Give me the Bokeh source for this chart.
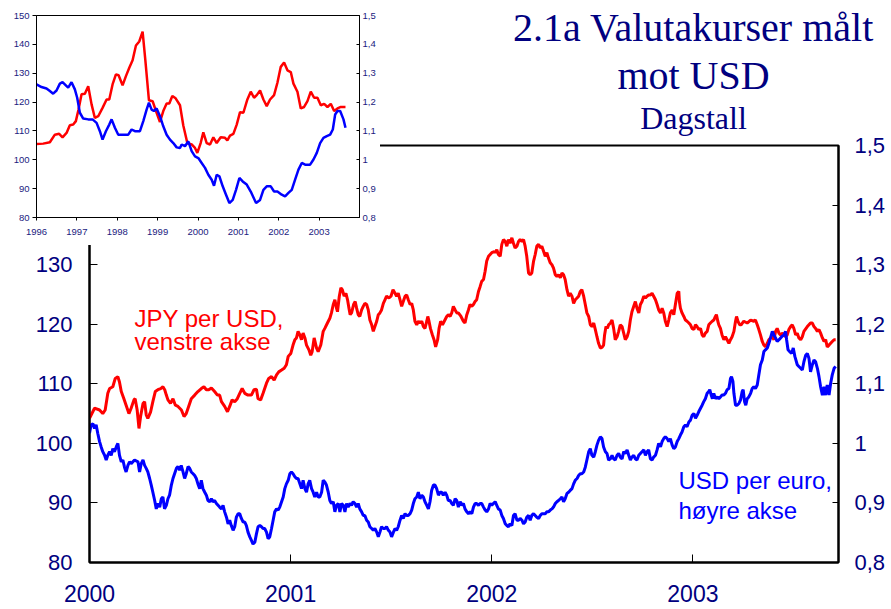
from bokeh.plotting import figure
from bokeh.models import (LinearAxis, Range1d, FixedTicker, Label, GridBox,
                          CustomJSTickFormatter)
from bokeh.embed import file_html
from bokeh.resources import INLINE

# ---------------- data: main chart (daily) ----------------
jpy_t = [
 2000.000, 2000.025, 2000.050, 2000.066, 2000.078, 2000.091, 2000.100, 2000.116, 2000.128, 2000.141,
 2000.149, 2000.158, 2000.171, 2000.182, 2000.196, 2000.207, 2000.221, 2000.227, 2000.237, 2000.246,
 2000.254, 2000.266, 2000.274, 2000.282, 2000.290, 2000.304, 2000.315, 2000.327, 2000.340, 2000.354,
 2000.365, 2000.374, 2000.382, 2000.390, 2000.403, 2000.415, 2000.427, 2000.440, 2000.457, 2000.470,
 2000.481, 2000.493, 2000.506, 2000.523, 2000.539, 2000.556, 2000.569, 2000.581, 2000.593, 2000.606,
 2000.622, 2000.636, 2000.647, 2000.656, 2000.672, 2000.686, 2000.697, 2000.709, 2000.722, 2000.735,
 2000.747, 2000.759, 2000.772, 2000.788, 2000.805, 2000.818, 2000.830, 2000.838, 2000.851, 2000.863,
 2000.880, 2000.891, 2000.905, 2000.918, 2000.930, 2000.941, 2000.955, 2000.968, 2000.979, 2000.988,
 2001.001, 2001.012, 2001.021,
 2001.029, 2001.037, 2001.046, 2001.054, 2001.062, 2001.071, 2001.079, 2001.091, 2001.100, 2001.107,
 2001.117, 2001.129, 2001.137, 2001.150, 2001.162, 2001.170, 2001.183, 2001.195, 2001.203, 2001.212,
 2001.220, 2001.228, 2001.233, 2001.242, 2001.250, 2001.257, 2001.266, 2001.275, 2001.283, 2001.290,
 2001.296, 2001.303, 2001.313, 2001.321, 2001.328, 2001.336, 2001.344, 2001.353, 2001.361, 2001.369,
 2001.378, 2001.386, 2001.394, 2001.403, 2001.411, 2001.419, 2001.428, 2001.436, 2001.444, 2001.452,
 2001.461, 2001.469, 2001.477, 2001.489, 2001.499, 2001.509, 2001.519, 2001.527, 2001.535, 2001.544,
 2001.552, 2001.560, 2001.569, 2001.577, 2001.585, 2001.594, 2001.602, 2001.610, 2001.618, 2001.627,
 2001.635, 2001.643, 2001.652, 2001.660, 2001.668, 2001.677, 2001.682, 2001.688, 2001.695, 2001.705,
 2001.713, 2001.721, 2001.731, 2001.738, 2001.746, 2001.755, 2001.764, 2001.776, 2001.784, 2001.793,
 2001.801, 2001.809, 2001.818, 2001.826, 2001.834, 2001.847, 2001.859, 2001.867, 2001.876, 2001.884,
 2001.892, 2001.901, 2001.909, 2001.917, 2001.925, 2001.934, 2001.942, 2001.950, 2001.959, 2001.967,
 2001.975, 2001.984, 2001.992, 2002.000, 2002.013,
 2002.017, 2002.025, 2002.033, 2002.042, 2002.050, 2002.058, 2002.067, 2002.075, 2002.083, 2002.091,
 2002.100, 2002.108, 2002.116, 2002.125, 2002.133, 2002.141, 2002.150, 2002.158, 2002.166, 2002.174,
 2002.183, 2002.191, 2002.199, 2002.208, 2002.216, 2002.224, 2002.233, 2002.241, 2002.249, 2002.258,
 2002.266, 2002.274, 2002.282, 2002.291, 2002.299, 2002.307, 2002.316, 2002.324, 2002.332, 2002.341,
 2002.349, 2002.357, 2002.365, 2002.374, 2002.382, 2002.390, 2002.399, 2002.407, 2002.415, 2002.424,
 2002.432, 2002.440, 2002.448, 2002.457, 2002.465, 2002.473, 2002.482, 2002.490, 2002.498, 2002.507,
 2002.515, 2002.523, 2002.531, 2002.540, 2002.548, 2002.556, 2002.561, 2002.568, 2002.575, 2002.581,
 2002.590, 2002.598, 2002.606, 2002.614, 2002.623, 2002.631, 2002.639, 2002.648, 2002.656, 2002.664,
 2002.673, 2002.681, 2002.689, 2002.697, 2002.706, 2002.714, 2002.722, 2002.731, 2002.739, 2002.747,
 2002.756, 2002.764, 2002.772, 2002.780, 2002.789, 2002.797, 2002.805, 2002.814, 2002.822, 2002.830,
 2002.839, 2002.847, 2002.855, 2002.863, 2002.872, 2002.880, 2002.888, 2002.897, 2002.905, 2002.913,
 2002.922, 2002.930, 2002.933, 2002.938, 2002.946, 2002.955, 2002.963, 2002.971, 2002.980, 2002.988,
 2002.996, 2003.005, 2003.013,
 2003.021, 2003.029, 2003.038, 2003.046, 2003.054, 2003.062, 2003.071, 2003.079, 2003.087, 2003.096,
 2003.104, 2003.112, 2003.117, 2003.124, 2003.129, 2003.137, 2003.145, 2003.154, 2003.162, 2003.170,
 2003.179, 2003.187, 2003.195, 2003.204, 2003.212, 2003.217, 2003.224, 2003.233, 2003.240, 2003.253,
 2003.270, 2003.287, 2003.303, 2003.311, 2003.320, 2003.328, 2003.336, 2003.345, 2003.353, 2003.361,
 2003.370, 2003.378, 2003.386, 2003.395, 2003.403, 2003.411, 2003.419, 2003.428, 2003.436, 2003.444,
 2003.453, 2003.461, 2003.469, 2003.477, 2003.486, 2003.494, 2003.502, 2003.511, 2003.519, 2003.527,
 2003.536, 2003.544, 2003.552, 2003.569, 2003.577, 2003.585, 2003.594, 2003.602, 2003.610, 2003.619,
 2003.627, 2003.635, 2003.644, 2003.652, 2003.660, 2003.668, 2003.677, 2003.685, 2003.693, 2003.702,
 2003.710]
jpy_v = [
 104.2, 105.9, 105.6, 105.0, 105.6, 108.4, 109.2, 109.5, 110.9, 111.2,
 110.3, 108.7, 107.5, 106.4, 105.0, 105.9, 107.3, 107.5, 105.6, 102.5,
 104.5, 106.7, 107.0, 104.8, 104.2, 105.3, 107.0, 108.7, 109.0, 109.2,
 109.5, 109.0, 108.1, 107.3, 106.7, 107.5, 106.4, 106.2, 105.6, 104.5,
 105.0, 106.2, 107.5, 108.1, 108.7, 109.2, 109.5, 109.0, 109.0, 109.3,
 108.7, 108.1, 108.1, 107.0, 106.2, 105.3, 106.2, 107.3, 107.0, 107.5,
 108.4, 109.2, 108.4, 108.1, 108.1, 109.0, 109.1, 107.5, 107.3, 108.4,
 110.1, 110.9, 111.2, 110.6, 111.5, 112.0, 112.3, 112.6, 113.2, 114.6,
 115.1, 116.5, 117.4,
 117.7, 118.8, 118.2, 117.4, 118.5, 117.7, 116.5, 115.7, 114.8, 115.4,
 117.7, 116.0, 115.4, 116.5, 118.8, 119.3, 120.2, 121.0, 121.9, 123.3,
 124.1, 122.7, 122.1, 124.7, 126.1, 125.8, 124.7, 125.2, 124.1, 122.7,
 121.6, 121.9, 123.3, 123.8, 122.7, 121.6, 121.3, 122.4, 123.0, 123.5,
 123.3, 122.4, 120.7, 119.9, 118.8, 119.6, 120.5, 121.6, 121.9, 122.4,
 123.5, 124.1, 124.7, 124.4, 124.7, 125.8, 125.2, 124.7, 125.2, 124.1,
 123.0, 123.8, 124.7, 124.9, 124.1, 123.3, 123.5, 122.4, 120.5, 119.9,
 120.5, 120.2, 120.5, 119.6, 119.3, 120.5, 121.3, 120.5, 119.3, 118.2,
 117.4, 116.2, 117.4, 119.3, 120.5, 119.9, 120.5, 121.3, 121.6, 121.3,
 121.9, 123.0, 122.4, 121.9, 121.9, 121.3, 120.5, 120.2, 121.6, 122.4,
 123.3, 123.0, 123.3, 123.8, 124.1, 125.5, 126.3, 127.2, 127.5, 128.9,
 130.6, 131.4, 131.7, 132.0, 132.2,
 132.0, 132.5, 131.7, 131.4, 133.4, 134.2, 133.9, 133.1, 134.2, 133.6,
 134.5, 133.6, 132.8, 133.1, 133.9, 134.2, 133.9, 134.2, 133.1, 131.4,
 128.6, 128.3, 128.6, 130.6, 131.7, 133.1, 133.4, 132.8, 133.1, 132.2,
 131.4, 132.0, 131.1, 130.3, 130.0, 129.4, 128.3, 128.0, 128.3, 127.8,
 128.6, 128.3, 127.5, 125.8, 124.7, 125.2, 124.7, 123.5, 124.1, 124.4,
 124.7, 125.5, 125.8, 124.7, 123.3, 121.9, 121.3, 119.9, 119.6, 120.2,
 119.1, 117.9, 116.8, 116.0, 116.1, 116.5, 118.2, 119.6, 119.3, 119.9,
 120.2, 120.7, 119.3, 117.4, 117.9, 118.8, 119.9, 119.6, 118.5, 117.4,
 117.9, 118.8, 120.7, 122.1, 123.0, 123.8, 122.7, 121.9, 123.3, 123.8,
 124.7, 124.4, 124.7, 124.9, 124.9, 125.2, 124.7, 124.1, 123.3, 122.4,
 121.9, 122.7, 121.9, 120.5, 119.6, 120.7, 121.9, 122.4, 121.6, 123.3,
 125.2, 125.5, 123.8, 122.7, 121.9, 121.3, 120.7, 120.5, 120.2, 119.9,
 119.3, 119.1, 119.9,
 119.6, 119.1, 119.3, 118.2, 117.9, 118.5, 118.8, 119.9, 120.2, 120.5,
 120.7, 121.3, 121.6, 120.5, 119.9, 119.3, 118.2, 117.4, 117.9, 117.4,
 116.8, 117.4, 117.9, 118.8, 120.5, 121.3, 120.5, 119.9, 119.9, 120.5,
 120.2, 120.7, 120.5, 120.7, 119.9, 119.1, 118.2, 117.1, 116.5, 116.2,
 116.8, 117.4, 117.7, 117.9, 117.4, 118.8, 119.3, 118.5, 118.2, 118.5,
 118.2, 117.9, 118.2, 119.1, 119.6, 119.9, 119.3, 118.2, 118.5, 117.7,
 117.4, 117.9, 118.8, 119.6, 119.9, 120.2, 120.2, 119.6, 119.3, 118.8,
 119.1, 118.5, 117.7, 117.1, 117.4, 116.2, 116.5, 116.8, 117.1, 117.4,
 117.4]

eur_t = [
 2000.000, 2000.008, 2000.017, 2000.025, 2000.033, 2000.041, 2000.050, 2000.058, 2000.066, 2000.075,
 2000.083, 2000.091, 2000.100, 2000.108, 2000.116, 2000.124, 2000.133, 2000.141, 2000.149, 2000.158,
 2000.166, 2000.174, 2000.182, 2000.191, 2000.199, 2000.207, 2000.224, 2000.241, 2000.249, 2000.257,
 2000.266, 2000.274, 2000.282, 2000.290, 2000.299, 2000.307, 2000.315, 2000.324, 2000.332, 2000.340,
 2000.349, 2000.357, 2000.365, 2000.373, 2000.382, 2000.390, 2000.398, 2000.407, 2000.415, 2000.423,
 2000.432, 2000.440, 2000.448, 2000.456, 2000.465, 2000.473, 2000.481, 2000.490, 2000.498, 2000.506,
 2000.515, 2000.523, 2000.531, 2000.539, 2000.548, 2000.556, 2000.564, 2000.573, 2000.581, 2000.589,
 2000.598, 2000.606, 2000.614, 2000.622, 2000.631, 2000.639, 2000.647, 2000.656, 2000.664, 2000.672,
 2000.681, 2000.689, 2000.697, 2000.705, 2000.714, 2000.722, 2000.730, 2000.739, 2000.747, 2000.755,
 2000.764, 2000.772, 2000.780, 2000.788, 2000.797, 2000.805, 2000.813, 2000.822, 2000.830, 2000.838,
 2000.847, 2000.855, 2000.863, 2000.871, 2000.880, 2000.888, 2000.896, 2000.905, 2000.913, 2000.921,
 2000.930, 2000.938, 2000.946, 2000.955, 2000.963, 2000.971, 2000.979, 2000.988, 2000.996, 2001.004,
 2001.012, 2001.021,
 2001.029, 2001.037, 2001.046, 2001.054, 2001.062, 2001.071, 2001.079, 2001.087, 2001.095, 2001.104,
 2001.112, 2001.120, 2001.129, 2001.137, 2001.145, 2001.154, 2001.162, 2001.170, 2001.178, 2001.187,
 2001.195, 2001.203, 2001.212, 2001.220, 2001.228, 2001.237, 2001.245, 2001.253, 2001.262, 2001.270,
 2001.278, 2001.286, 2001.295, 2001.303, 2001.311, 2001.320, 2001.328, 2001.336, 2001.344, 2001.353,
 2001.361, 2001.369, 2001.378, 2001.386, 2001.394, 2001.403, 2001.411, 2001.419, 2001.428, 2001.436,
 2001.444, 2001.452, 2001.461, 2001.469, 2001.477, 2001.486, 2001.494, 2001.502, 2001.511, 2001.519,
 2001.527, 2001.535, 2001.544, 2001.552, 2001.560, 2001.569, 2001.577, 2001.585, 2001.594, 2001.602,
 2001.610, 2001.618, 2001.627, 2001.635, 2001.643, 2001.652, 2001.660, 2001.668, 2001.677, 2001.685,
 2001.693, 2001.701, 2001.710, 2001.718, 2001.726, 2001.735, 2001.743, 2001.751, 2001.759, 2001.768,
 2001.776, 2001.784, 2001.793, 2001.801, 2001.809, 2001.818, 2001.826, 2001.834, 2001.843, 2001.851,
 2001.859, 2001.867, 2001.876, 2001.884, 2001.892, 2001.901, 2001.909, 2001.917, 2001.925, 2001.934,
 2001.942, 2001.950, 2001.959, 2001.967, 2001.975, 2001.984, 2001.992, 2002.000, 2002.008, 2002.017,
 2002.025, 2002.033, 2002.042, 2002.050, 2002.058, 2002.067, 2002.075, 2002.083, 2002.091, 2002.100,
 2002.108, 2002.116, 2002.125, 2002.133, 2002.141, 2002.150, 2002.158, 2002.166, 2002.174, 2002.183,
 2002.191, 2002.199, 2002.208, 2002.216, 2002.224, 2002.233, 2002.241, 2002.249, 2002.266, 2002.274,
 2002.282, 2002.291, 2002.299, 2002.307, 2002.316, 2002.324, 2002.332, 2002.341, 2002.349, 2002.357,
 2002.365, 2002.374, 2002.382, 2002.390, 2002.399, 2002.407, 2002.415, 2002.424, 2002.432, 2002.440,
 2002.448, 2002.457, 2002.465, 2002.473, 2002.482, 2002.490, 2002.498, 2002.507, 2002.515, 2002.523,
 2002.531, 2002.540, 2002.548, 2002.556, 2002.565, 2002.573, 2002.581, 2002.590, 2002.598, 2002.606,
 2002.614, 2002.623, 2002.631, 2002.639, 2002.648, 2002.656, 2002.664, 2002.673, 2002.681, 2002.689,
 2002.697, 2002.706, 2002.714, 2002.722, 2002.731, 2002.739, 2002.747, 2002.756, 2002.764, 2002.772,
 2002.780, 2002.789, 2002.797, 2002.805, 2002.814, 2002.822, 2002.830, 2002.839, 2002.847, 2002.855,
 2002.863, 2002.872, 2002.880, 2002.888, 2002.897, 2002.905, 2002.913, 2002.922, 2002.930, 2002.938,
 2002.946, 2002.955, 2002.963, 2002.971, 2002.980, 2002.988, 2002.996, 2003.005, 2003.013,
 2003.021, 2003.029, 2003.038, 2003.046, 2003.054, 2003.062, 2003.071, 2003.079, 2003.084, 2003.091,
 2003.097, 2003.104, 2003.112, 2003.121, 2003.129, 2003.137, 2003.145, 2003.154, 2003.162, 2003.170,
 2003.179, 2003.187, 2003.192, 2003.199, 2003.204, 2003.212, 2003.220, 2003.229, 2003.237, 2003.245,
 2003.250, 2003.257, 2003.263, 2003.270, 2003.278, 2003.287, 2003.295, 2003.303, 2003.311, 2003.320,
 2003.328, 2003.336, 2003.345, 2003.353, 2003.361, 2003.370, 2003.378, 2003.386, 2003.395, 2003.403,
 2003.411, 2003.419, 2003.428, 2003.436, 2003.444, 2003.453, 2003.461, 2003.466, 2003.473, 2003.481,
 2003.491, 2003.499, 2003.507, 2003.519, 2003.527, 2003.536, 2003.544, 2003.552, 2003.561, 2003.569,
 2003.577, 2003.585, 2003.594, 2003.602, 2003.610, 2003.619, 2003.627, 2003.635, 2003.644, 2003.652,
 2003.660, 2003.668, 2003.677, 2003.685, 2003.693, 2003.702, 2003.710]
eur_v = [
 1.017, 1.031, 1.033, 1.025, 1.031, 1.017, 1.003, 0.994, 0.986, 0.980,
 0.972, 0.980, 0.986, 0.980, 0.991, 0.986, 0.994, 1.000, 0.980, 0.969,
 0.972, 0.960, 0.952, 0.963, 0.969, 0.966, 0.972, 0.969, 0.952, 0.966,
 0.972, 0.963, 0.958, 0.952, 0.941, 0.930, 0.918, 0.904, 0.890, 0.899,
 0.893, 0.907, 0.910, 0.890, 0.896, 0.907, 0.913, 0.930, 0.941, 0.949,
 0.958, 0.961, 0.955, 0.963, 0.952, 0.941, 0.949, 0.961, 0.958, 0.952,
 0.949, 0.946, 0.941, 0.932, 0.924, 0.938, 0.924, 0.918, 0.913, 0.904,
 0.902, 0.907, 0.902, 0.904, 0.899, 0.896, 0.893, 0.890, 0.896, 0.885,
 0.876, 0.865, 0.871, 0.862, 0.854, 0.860, 0.876, 0.882, 0.882, 0.874,
 0.868, 0.868, 0.862, 0.851, 0.843, 0.837, 0.831, 0.834, 0.848, 0.860,
 0.862, 0.860, 0.857, 0.857, 0.851, 0.840, 0.843, 0.857, 0.871, 0.885,
 0.890, 0.888, 0.893, 0.902, 0.910, 0.924, 0.932, 0.938, 0.949, 0.952,
 0.949, 0.944,
 0.941, 0.941, 0.932, 0.924, 0.938, 0.924, 0.918, 0.932, 0.938, 0.924,
 0.918, 0.910, 0.918, 0.910, 0.910, 0.918, 0.938, 0.935, 0.930, 0.918,
 0.904, 0.899, 0.902, 0.885, 0.896, 0.899, 0.885, 0.899, 0.896, 0.885,
 0.899, 0.893, 0.899, 0.896, 0.902, 0.899, 0.893, 0.899, 0.890, 0.885,
 0.879, 0.879, 0.871, 0.868, 0.860, 0.857, 0.854, 0.857, 0.851, 0.843,
 0.851, 0.860, 0.857, 0.857, 0.860, 0.854, 0.851, 0.843, 0.851, 0.857,
 0.854, 0.860, 0.871, 0.879, 0.874, 0.882, 0.879, 0.879, 0.882, 0.888,
 0.899, 0.907, 0.910, 0.918, 0.907, 0.913, 0.910, 0.902, 0.896, 0.890,
 0.902, 0.921, 0.930, 0.930, 0.924, 0.913, 0.918, 0.918, 0.913, 0.918,
 0.913, 0.904, 0.904, 0.899, 0.896, 0.907, 0.904, 0.893, 0.902, 0.896,
 0.899, 0.890, 0.885, 0.882, 0.885, 0.882, 0.893, 0.899, 0.899, 0.896,
 0.899, 0.899, 0.893, 0.888, 0.885, 0.890, 0.899, 0.896, 0.899, 0.902,
 0.896, 0.890, 0.888, 0.879, 0.874, 0.865, 0.862, 0.860, 0.865, 0.862,
 0.879, 0.882, 0.871, 0.871, 0.874, 0.871, 0.865, 0.868, 0.876, 0.879,
 0.871, 0.879, 0.882, 0.879, 0.876, 0.874, 0.879, 0.882, 0.882, 0.885,
 0.885, 0.888, 0.890, 0.893, 0.899, 0.902, 0.904, 0.907, 0.910, 0.902,
 0.907, 0.916, 0.918, 0.921, 0.924, 0.932, 0.938, 0.941, 0.946, 0.949,
 0.949, 0.952, 0.960, 0.972, 0.986, 0.991, 0.980, 0.977, 0.986, 0.997,
 1.005, 1.011, 1.008, 0.994, 0.986, 0.983, 0.972, 0.974, 0.980, 0.974,
 0.972, 0.980, 0.983, 0.977, 0.974, 0.986, 0.983, 0.989, 0.980, 0.972,
 0.977, 0.980, 0.974, 0.972, 0.980, 0.983, 0.986, 0.989, 0.980, 0.986,
 0.989, 0.974, 0.972, 0.977, 0.980, 0.989, 1.000, 0.994, 1.003, 1.008,
 1.011, 1.008, 1.003, 1.008, 0.997, 0.991, 0.994, 1.003, 1.008, 1.014,
 1.019, 1.028, 1.031, 1.028, 1.036, 1.039, 1.047, 1.050, 1.042,
 1.047, 1.053, 1.059, 1.064, 1.070, 1.075, 1.084, 1.087, 1.090, 1.081,
 1.075, 1.084, 1.075, 1.078, 1.075, 1.078, 1.081, 1.081, 1.084, 1.090,
 1.092, 1.109, 1.112, 1.104, 1.084, 1.064, 1.064, 1.067, 1.073, 1.087,
 1.090, 1.070, 1.064, 1.075, 1.078, 1.084, 1.092, 1.095, 1.092, 1.098,
 1.115, 1.132, 1.140, 1.154, 1.157, 1.160, 1.168, 1.177, 1.188, 1.182,
 1.177, 1.171, 1.174, 1.177, 1.180, 1.182, 1.188, 1.174, 1.157, 1.154,
 1.151, 1.160, 1.146, 1.132, 1.129, 1.126, 1.123, 1.137, 1.148, 1.151,
 1.143, 1.120, 1.132, 1.140, 1.137, 1.126, 1.112, 1.095, 1.081, 1.095,
 1.081, 1.098, 1.081, 1.101, 1.115, 1.126, 1.129]

# ---------------- data: inset (monthly, 1996-2003) ----------------
jpy_m_t = [
 1996.000, 1996.165, 1996.331, 1996.455, 1996.562, 1996.645, 1996.744, 1996.826, 1996.909, 1996.975,
 1997.041, 1997.116, 1997.198, 1997.281, 1997.364, 1997.446, 1997.529, 1997.636, 1997.736, 1997.802,
 1997.884, 1997.967, 1998.033, 1998.132, 1998.215, 1998.298, 1998.380, 1998.463, 1998.545, 1998.628,
 1998.694, 1998.785, 1998.876, 1998.959, 1999.058, 1999.140, 1999.223, 1999.289, 1999.364, 1999.446,
 1999.554, 1999.636, 1999.736, 1999.843, 1999.926, 1999.983, 2000.066, 2000.132, 2000.215, 2000.298,
 2000.380, 2000.463, 2000.562, 2000.669, 2000.727, 2000.793, 2000.876, 2000.959, 2001.041, 2001.124,
 2001.223, 2001.306, 2001.388, 2001.455, 2001.537, 2001.620, 2001.702, 2001.785, 2001.884, 2001.967,
 2002.050, 2002.132, 2002.215, 2002.298, 2002.364, 2002.463, 2002.545, 2002.628, 2002.711, 2002.793,
 2002.876, 2002.959, 2003.041, 2003.124, 2003.207, 2003.289, 2003.372, 2003.455, 2003.537, 2003.653]
jpy_m_v = [
 105.5, 105.6, 106.1, 108.7, 109.0, 107.8, 109.3, 112.0, 112.2, 113.4,
 117.4, 122.7, 122.9, 125.5, 119.2, 114.5, 115.1, 118.0, 120.9, 120.9,
 126.1, 129.6, 129.3, 125.8, 129.0, 131.9, 134.5, 139.6, 141.0, 144.4,
 134.8, 120.6, 120.3, 116.9, 113.1, 116.9, 119.5, 119.5, 122.1, 121.3,
 118.9, 111.9, 105.8, 105.3, 104.1, 102.4, 105.8, 109.5, 105.8, 105.3,
 107.8, 105.8, 107.8, 107.6, 106.7, 108.4, 109.0, 112.2, 116.5, 116.3,
 120.9, 123.6, 121.5, 122.4, 124.0, 120.9, 118.6, 120.9, 122.4, 126.7,
 132.2, 133.7, 131.0, 130.4, 126.4, 123.6, 117.8, 118.3, 120.3, 123.6,
 121.5, 121.5, 118.9, 119.4, 118.3, 119.4, 116.9, 117.8, 118.3, 118.3]

eur_m_t = [
 1996.000, 1996.124, 1996.248, 1996.331, 1996.413, 1996.496, 1996.579, 1996.645, 1996.727, 1996.785,
 1996.868, 1996.950, 1997.008, 1997.074, 1997.157, 1997.281, 1997.388, 1997.488, 1997.570, 1997.636,
 1997.719, 1997.802, 1997.860, 1997.942, 1998.025, 1998.149, 1998.273, 1998.355, 1998.438, 1998.562,
 1998.645, 1998.727, 1998.785, 1998.851, 1998.909, 1998.975, 1999.058, 1999.140, 1999.223, 1999.306,
 1999.388, 1999.471, 1999.554, 1999.595, 1999.678, 1999.760, 1999.843, 1999.926, 2000.008, 2000.091,
 2000.174, 2000.256, 2000.339, 2000.397, 2000.463, 2000.529, 2000.612, 2000.694, 2000.777, 2000.860,
 2000.942, 2001.025, 2001.107, 2001.207, 2001.306, 2001.438, 2001.537, 2001.620, 2001.702, 2001.802,
 2001.884, 2001.967, 2002.074, 2002.157, 2002.240, 2002.322, 2002.405, 2002.488, 2002.570, 2002.653,
 2002.777, 2002.860, 2002.942, 2003.025, 2003.107, 2003.190, 2003.273, 2003.339, 2003.397, 2003.455,
 2003.521, 2003.603, 2003.653]
eur_m_v = [
 1.261, 1.252, 1.247, 1.238, 1.229, 1.240, 1.264, 1.269, 1.258, 1.250,
 1.269, 1.244, 1.215, 1.163, 1.143, 1.140, 1.140, 1.128, 1.099, 1.070,
 1.099, 1.122, 1.140, 1.111, 1.087, 1.087, 1.087, 1.105, 1.099, 1.099,
 1.134, 1.174, 1.198, 1.174, 1.169, 1.178, 1.151, 1.116, 1.087, 1.070,
 1.058, 1.043, 1.041, 1.053, 1.047, 1.064, 1.030, 1.012, 1.006, 0.989,
 0.972, 0.948, 0.931, 0.910, 0.948, 0.943, 0.908, 0.879, 0.850, 0.861,
 0.896, 0.937, 0.925, 0.914, 0.890, 0.850, 0.861, 0.896, 0.908, 0.908,
 0.890, 0.890, 0.879, 0.873, 0.885, 0.896, 0.931, 0.966, 0.989, 0.983,
 0.983, 1.001, 1.024, 1.058, 1.076, 1.082, 1.087, 1.105, 1.157, 1.169,
 1.169, 1.140, 1.111]

# ---------------- ticks and texts ----------------
year_ticks = [2000, 2001, 2002, 2003]
jpy_ticks = [80, 90, 100, 110, 120, 130]
eur_ticks = [0.8, 0.9, 1.0, 1.1, 1.2, 1.3, 1.4, 1.5]
inset_year_ticks = [1996, 1997, 1998, 1999, 2000, 2001, 2002, 2003]
inset_jpy_ticks = [80, 90, 100, 110, 120, 130, 140, 150]
title_lines = ["2.1a Valutakurser målt", "mot USD", "Dagstall"]
jpy_label = ["JPY per USD,", "venstre akse"]
eur_label = ["USD per euro,", "høyre akse"]

NAVY = "#000080"
RED = "#FF0000"
BLUE = "#0000FF"
SANS = "Liberation Sans"
SERIF = "Liberation Serif"

comma_fmt = CustomJSTickFormatter(
    code="var s = tick.toFixed(1).replace('.', ','); return s.endsWith(',0') ? s.slice(0, -2) : s;")
year_fmt = CustomJSTickFormatter(code="return tick.toFixed(0);")

# ---------------- main figure ----------------
p = figure(width=889, height=609, output_backend="svg", toolbar_location=None,
           x_range=Range1d(2000, 2003.724), y_range=Range1d(80, 150),
           min_border_left=89, min_border_right=51, min_border_top=145,
           min_border_bottom=47, frame_align=False)
p.background_fill_color = "white"
p.border_fill_color = "white"
p.outline_line_color = "black"
p.outline_line_width = 2
p.xgrid.visible = False
p.ygrid.visible = False
p.extra_y_ranges = {"eur": Range1d(0.8, 1.5)}

p.line(jpy_t, jpy_v, line_color=RED, line_width=3)
p.line(eur_t, eur_v, line_color=BLUE, line_width=3, y_range_name="eur")

xa = p.below[0]
xa.ticker = FixedTicker(ticks=year_ticks, minor_ticks=[])
xa.formatter = year_fmt
ya = p.left[0]
ya.ticker = FixedTicker(ticks=jpy_ticks, minor_ticks=[])
for ax in (xa, ya):
    ax.major_tick_in = 8
    ax.major_tick_out = 0
    ax.minor_tick_in = 0
    ax.minor_tick_out = 0
    ax.axis_line_width = 2
    ax.major_tick_line_color = "black"
    ax.major_label_text_font = SANS
    ax.major_label_text_color = NAVY
xa.major_label_text_font_size = "23px"
ya.major_label_text_font_size = "22px"
xa.major_label_standoff = 22
ya.major_label_standoff = 17

ra = LinearAxis(y_range_name="eur", ticker=FixedTicker(ticks=eur_ticks, minor_ticks=[]),
                formatter=comma_fmt)
ra.major_tick_in = 6
ra.major_tick_out = 0
ra.minor_tick_in = 0
ra.minor_tick_out = 0
ra.axis_line_width = 2
ra.major_label_standoff = 16
ra.major_label_text_font = SANS
ra.major_label_text_font_size = "22px"
ra.major_label_text_color = NAVY
p.add_layout(ra, "right")

# series names (screen px relative to the frame's bottom-left corner)
for txt, yy in zip(jpy_label, [244, 221]):
    p.add_layout(Label(x=45, y=yy, x_units="screen", y_units="screen", text=txt,
                       text_font=SANS, text_font_size="24px", text_color=RED,
                       text_baseline="alphabetic"))
for txt, yy in zip(eur_label, [82, 52]):
    p.add_layout(Label(x=589, y=yy, x_units="screen", y_units="screen", text=txt,
                       text_font=SANS, text_font_size="24px", text_color=BLUE,
                       text_baseline="alphabetic"))

# ---------------- inset figure ----------------
pi = figure(width=380, height=245, output_backend="svg", toolbar_location=None,
            x_range=Range1d(1996, 2004), y_range=Range1d(80, 150),
            min_border_left=36, min_border_right=21, min_border_top=15,
            min_border_bottom=28, frame_align=False)
pi.background_fill_color = "white"
pi.border_fill_color = "white"
pi.outline_line_color = "black"
pi.outline_line_width = 1
pi.xgrid.visible = False
pi.ygrid.visible = False
pi.extra_y_ranges = {"eur": Range1d(0.8, 1.5)}

pi.line(jpy_m_t, jpy_m_v, line_color=RED, line_width=2.5)
pi.line(eur_m_t, eur_m_v, line_color=BLUE, line_width=2.5, y_range_name="eur")

ixa = pi.below[0]
ixa.ticker = FixedTicker(ticks=inset_year_ticks, minor_ticks=[])
ixa.formatter = year_fmt
iya = pi.left[0]
iya.ticker = FixedTicker(ticks=inset_jpy_ticks, minor_ticks=[])
ira = LinearAxis(y_range_name="eur", ticker=FixedTicker(ticks=eur_ticks, minor_ticks=[]),
                 formatter=comma_fmt)
pi.add_layout(ira, "right")
for ax in (ixa, iya, ira):
    ax.minor_tick_in = 0
    ax.minor_tick_out = 0
    ax.axis_line_width = 1
    ax.major_label_text_font = SANS
    ax.major_label_text_font_size = "9.5px"
    ax.major_label_text_color = "#1A1A80"
ixa.major_tick_in = 0
ixa.major_tick_out = 3
ixa.major_label_standoff = 8
iya.major_tick_in = 0
iya.major_tick_out = 4
iya.major_label_standoff = 3
ira.major_tick_in = 3
ira.major_tick_out = 0
ira.major_label_standoff = 3

# ---------------- title overlay (transparent) ----------------
pt = figure(width=889, height=150, output_backend="svg", toolbar_location=None,
            x_axis_location=None, y_axis_location=None, min_border=0,
            frame_align=False)
pt.background_fill_color = None
pt.border_fill_color = None
pt.outline_line_color = None
pt.xgrid.visible = False
pt.ygrid.visible = False
for txt, yy, size in zip(title_lines, [123, 75, 33], ["40px", "40px", "32px"]):
    pt.add_layout(Label(x=693, y=yy, x_units="screen", y_units="screen", text=txt,
                        text_font=SERIF, text_font_size=size, text_color=NAVY,
                        text_align="center", text_baseline="alphabetic"))

layout = GridBox(children=[(p, 0, 0), (pi, 0, 0), (pt, 0, 0)])

open("out.html", "w").write(file_html(layout, INLINE))
